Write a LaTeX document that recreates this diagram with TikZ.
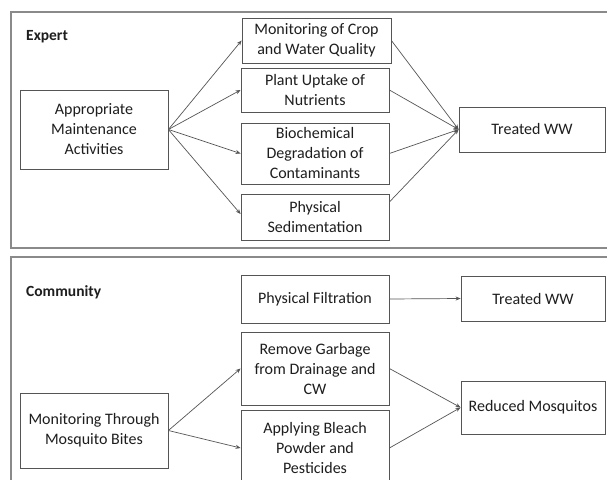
\documentclass[tikz,border=0pt]{standalone}
\usepackage{fontspec}
\setmainfont{Carlito}
\usetikzlibrary{arrows.meta}
\definecolor{boxline}{HTML}{555555}
\definecolor{frameline}{HTML}{8A8A8A}
\definecolor{inktext}{HTML}{1E1E1E}
\tikzset{
  stagebox/.style={draw=boxline, line width=0.8pt, fill=white, align=center,
    text=inktext, inner sep=2pt, font=\fontsize{16}{20}\selectfont},
  flow/.style={draw=boxline, line width=0.7pt, -{Stealth[length=5pt,width=4pt]}},
  paneltitle/.style={anchor=west, inner sep=0pt, text=inktext,
    font=\fontsize{15.5}{18}\selectfont\bfseries},
  panel/.style={draw=frameline, line width=1.3pt}
}
\begin{document}
\begin{tikzpicture}[x=1pt,y=-1pt]
  \useasboundingbox (0,0) rectangle (607,479);
  \clip (0,0) rectangle (607,479);
  \fill[white] (0,0) rectangle (607,479);
  % panels
  \draw[panel] (11,12) rectangle (612,248);
  \draw[panel] (11,257) rectangle (612,495);
  \node[paneltitle] (expert) at (26,37) {Expert};
  \node[paneltitle] (community) at (26,292) {Community};

  % expert
  \node[stagebox, minimum width=148pt, minimum height=79pt] (maint) at (94,129.5)
    {Appropriate\\Maintenance\\Activities};
  \node[stagebox, minimum width=149pt, minimum height=45pt] (mon) at (316.5,40.5)
    {Monitoring of Crop\\and Water Quality};
  \node[stagebox, minimum width=148pt, minimum height=44pt] (upt) at (315,90)
    {Plant Uptake of\\Nutrients};
  \node[stagebox, minimum width=148pt, minimum height=61pt] (bio) at (315,153.5)
    {Biochemical\\Degradation of\\Contaminants};
  \node[stagebox, minimum width=148pt, minimum height=46pt] (sed) at (315,217)
    {Physical\\Sedimentation};
  \node[stagebox, minimum width=146pt, minimum height=45pt] (twwA) at (532,129.5)
    {Treated WW};
  \foreach \n in {mon,upt,bio}{
    \draw[flow] (maint.east) -- (\n.west);
    \draw[flow] (\n.east) -- (twwA.west);
  }
  \draw[flow] (maint.east) -- ([yshift=3pt]sed.west);
  \draw[flow] ([yshift=15pt]sed.east) -- (twwA.west);

  % community
  \node[stagebox, minimum width=148pt, minimum height=48pt] (filt) at (315,299)
    {Physical Filtration};
  \node[stagebox, minimum width=144pt, minimum height=45pt] (twwB) at (533,298.5)
    {Treated WW};
  \node[stagebox, minimum width=148pt, minimum height=73pt] (garb) at (315,368.5)
    {Remove Garbage\\from Drainage and\\CW};
  \node[stagebox, minimum width=148pt, minimum height=76pt] (bleach) at (315,448)
    {Applying Bleach\\Powder and\\Pesticides};
  \node[stagebox, minimum width=148pt, minimum height=75pt] (bites) at (94,430.5)
    {Monitoring Through\\Mosquito Bites};
  \node[stagebox, minimum width=144pt, minimum height=53pt] (mosq) at (533,407.5)
    {Reduced Mosquitos};
  \draw[flow] (filt.east) -- (twwB.west);
  \foreach \n in {garb,bleach}{
    \draw[flow] (bites.east) -- (\n.west);
    \draw[flow] (\n.east) -- (mosq.west);
  }
\end{tikzpicture}
\end{document}
